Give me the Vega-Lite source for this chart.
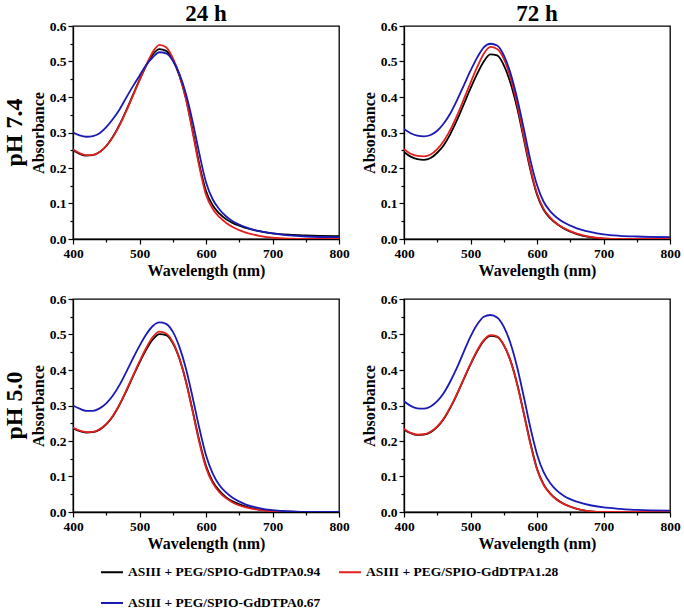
{
"$schema":"https://vega.github.io/schema/vega-lite/v6.json",
"padding":{"left":3,"top":3,"right":3,"bottom":0},
"config":{"font":"Liberation Serif","view":{"stroke":"black","strokeWidth":1.3},
"axis":{"domainColor":"black","domainWidth":1.3,"tickColor":"black","tickWidth":1.2,"labelFont":"Liberation Serif","labelFontWeight":"bold","labelFontSize":13.5,"labelColor":"black","titleFont":"Liberation Serif","titleFontWeight":"bold","titleFontSize":16,"titleColor":"black","grid":false,"labelPadding":2,"titlePadding":3,"labelFlush":false},
"legend":{"labelFont":"Liberation Serif","labelFontWeight":"bold","labelFontSize":13.5,"labelColor":"black"}},
"data":{"values":[
{"t":"24 h","p":"pH 7.4","s":"0.94","w":400,"a":0.250},{"t":"24 h","p":"pH 7.4","s":"0.94","w":410,"a":0.240},{"t":"24 h","p":"pH 7.4","s":"0.94","w":420,"a":0.235},{"t":"24 h","p":"pH 7.4","s":"0.94","w":430,"a":0.236},{"t":"24 h","p":"pH 7.4","s":"0.94","w":440,"a":0.245},{"t":"24 h","p":"pH 7.4","s":"0.94","w":450,"a":0.262},{"t":"24 h","p":"pH 7.4","s":"0.94","w":460,"a":0.288},{"t":"24 h","p":"pH 7.4","s":"0.94","w":470,"a":0.322},{"t":"24 h","p":"pH 7.4","s":"0.94","w":480,"a":0.362},{"t":"24 h","p":"pH 7.4","s":"0.94","w":490,"a":0.405},{"t":"24 h","p":"pH 7.4","s":"0.94","w":500,"a":0.448},{"t":"24 h","p":"pH 7.4","s":"0.94","w":510,"a":0.488},{"t":"24 h","p":"pH 7.4","s":"0.94","w":520,"a":0.520},{"t":"24 h","p":"pH 7.4","s":"0.94","w":530,"a":0.535},{"t":"24 h","p":"pH 7.4","s":"0.94","w":540,"a":0.530},{"t":"24 h","p":"pH 7.4","s":"0.94","w":550,"a":0.505},{"t":"24 h","p":"pH 7.4","s":"0.94","w":560,"a":0.460},{"t":"24 h","p":"pH 7.4","s":"0.94","w":570,"a":0.395},{"t":"24 h","p":"pH 7.4","s":"0.94","w":580,"a":0.305},{"t":"24 h","p":"pH 7.4","s":"0.94","w":590,"a":0.210},{"t":"24 h","p":"pH 7.4","s":"0.94","w":600,"a":0.135},{"t":"24 h","p":"pH 7.4","s":"0.94","w":610,"a":0.095},{"t":"24 h","p":"pH 7.4","s":"0.94","w":620,"a":0.072},{"t":"24 h","p":"pH 7.4","s":"0.94","w":630,"a":0.056},{"t":"24 h","p":"pH 7.4","s":"0.94","w":640,"a":0.045},{"t":"24 h","p":"pH 7.4","s":"0.94","w":660,"a":0.031},{"t":"24 h","p":"pH 7.4","s":"0.94","w":680,"a":0.022},{"t":"24 h","p":"pH 7.4","s":"0.94","w":700,"a":0.016},{"t":"24 h","p":"pH 7.4","s":"0.94","w":725,"a":0.012},{"t":"24 h","p":"pH 7.4","s":"0.94","w":750,"a":0.010},{"t":"24 h","p":"pH 7.4","s":"0.94","w":800,"a":0.008},
{"t":"24 h","p":"pH 7.4","s":"1.28","w":400,"a":0.252},{"t":"24 h","p":"pH 7.4","s":"1.28","w":410,"a":0.242},{"t":"24 h","p":"pH 7.4","s":"1.28","w":420,"a":0.236},{"t":"24 h","p":"pH 7.4","s":"1.28","w":430,"a":0.237},{"t":"24 h","p":"pH 7.4","s":"1.28","w":440,"a":0.245},{"t":"24 h","p":"pH 7.4","s":"1.28","w":450,"a":0.262},{"t":"24 h","p":"pH 7.4","s":"1.28","w":460,"a":0.287},{"t":"24 h","p":"pH 7.4","s":"1.28","w":470,"a":0.320},{"t":"24 h","p":"pH 7.4","s":"1.28","w":480,"a":0.360},{"t":"24 h","p":"pH 7.4","s":"1.28","w":490,"a":0.403},{"t":"24 h","p":"pH 7.4","s":"1.28","w":500,"a":0.447},{"t":"24 h","p":"pH 7.4","s":"1.28","w":510,"a":0.490},{"t":"24 h","p":"pH 7.4","s":"1.28","w":520,"a":0.527},{"t":"24 h","p":"pH 7.4","s":"1.28","w":530,"a":0.547},{"t":"24 h","p":"pH 7.4","s":"1.28","w":540,"a":0.540},{"t":"24 h","p":"pH 7.4","s":"1.28","w":550,"a":0.510},{"t":"24 h","p":"pH 7.4","s":"1.28","w":560,"a":0.462},{"t":"24 h","p":"pH 7.4","s":"1.28","w":570,"a":0.393},{"t":"24 h","p":"pH 7.4","s":"1.28","w":580,"a":0.300},{"t":"24 h","p":"pH 7.4","s":"1.28","w":590,"a":0.203},{"t":"24 h","p":"pH 7.4","s":"1.28","w":600,"a":0.125},{"t":"24 h","p":"pH 7.4","s":"1.28","w":610,"a":0.085},{"t":"24 h","p":"pH 7.4","s":"1.28","w":620,"a":0.062},{"t":"24 h","p":"pH 7.4","s":"1.28","w":630,"a":0.046},{"t":"24 h","p":"pH 7.4","s":"1.28","w":640,"a":0.034},{"t":"24 h","p":"pH 7.4","s":"1.28","w":660,"a":0.018},{"t":"24 h","p":"pH 7.4","s":"1.28","w":680,"a":0.009},{"t":"24 h","p":"pH 7.4","s":"1.28","w":700,"a":0.004},{"t":"24 h","p":"pH 7.4","s":"1.28","w":725,"a":0.001},{"t":"24 h","p":"pH 7.4","s":"1.28","w":750,"a":0.000},{"t":"24 h","p":"pH 7.4","s":"1.28","w":800,"a":0.000},
{"t":"24 h","p":"pH 7.4","s":"0.67","w":400,"a":0.300},{"t":"24 h","p":"pH 7.4","s":"0.67","w":410,"a":0.292},{"t":"24 h","p":"pH 7.4","s":"0.67","w":420,"a":0.288},{"t":"24 h","p":"pH 7.4","s":"0.67","w":430,"a":0.290},{"t":"24 h","p":"pH 7.4","s":"0.67","w":440,"a":0.298},{"t":"24 h","p":"pH 7.4","s":"0.67","w":450,"a":0.315},{"t":"24 h","p":"pH 7.4","s":"0.67","w":460,"a":0.338},{"t":"24 h","p":"pH 7.4","s":"0.67","w":470,"a":0.365},{"t":"24 h","p":"pH 7.4","s":"0.67","w":480,"a":0.398},{"t":"24 h","p":"pH 7.4","s":"0.67","w":490,"a":0.430},{"t":"24 h","p":"pH 7.4","s":"0.67","w":500,"a":0.460},{"t":"24 h","p":"pH 7.4","s":"0.67","w":510,"a":0.490},{"t":"24 h","p":"pH 7.4","s":"0.67","w":520,"a":0.512},{"t":"24 h","p":"pH 7.4","s":"0.67","w":530,"a":0.526},{"t":"24 h","p":"pH 7.4","s":"0.67","w":540,"a":0.523},{"t":"24 h","p":"pH 7.4","s":"0.67","w":550,"a":0.503},{"t":"24 h","p":"pH 7.4","s":"0.67","w":560,"a":0.465},{"t":"24 h","p":"pH 7.4","s":"0.67","w":570,"a":0.408},{"t":"24 h","p":"pH 7.4","s":"0.67","w":580,"a":0.330},{"t":"24 h","p":"pH 7.4","s":"0.67","w":590,"a":0.240},{"t":"24 h","p":"pH 7.4","s":"0.67","w":600,"a":0.160},{"t":"24 h","p":"pH 7.4","s":"0.67","w":610,"a":0.112},{"t":"24 h","p":"pH 7.4","s":"0.67","w":620,"a":0.084},{"t":"24 h","p":"pH 7.4","s":"0.67","w":630,"a":0.064},{"t":"24 h","p":"pH 7.4","s":"0.67","w":640,"a":0.050},{"t":"24 h","p":"pH 7.4","s":"0.67","w":660,"a":0.033},{"t":"24 h","p":"pH 7.4","s":"0.67","w":680,"a":0.022},{"t":"24 h","p":"pH 7.4","s":"0.67","w":700,"a":0.016},{"t":"24 h","p":"pH 7.4","s":"0.67","w":725,"a":0.010},{"t":"24 h","p":"pH 7.4","s":"0.67","w":750,"a":0.007},{"t":"24 h","p":"pH 7.4","s":"0.67","w":800,"a":0.005},
{"t":"72 h","p":"pH 7.4","s":"0.94","w":400,"a":0.245},{"t":"72 h","p":"pH 7.4","s":"0.94","w":410,"a":0.232},{"t":"72 h","p":"pH 7.4","s":"0.94","w":420,"a":0.225},{"t":"72 h","p":"pH 7.4","s":"0.94","w":430,"a":0.223},{"t":"72 h","p":"pH 7.4","s":"0.94","w":440,"a":0.228},{"t":"72 h","p":"pH 7.4","s":"0.94","w":450,"a":0.243},{"t":"72 h","p":"pH 7.4","s":"0.94","w":460,"a":0.265},{"t":"72 h","p":"pH 7.4","s":"0.94","w":470,"a":0.297},{"t":"72 h","p":"pH 7.4","s":"0.94","w":480,"a":0.336},{"t":"72 h","p":"pH 7.4","s":"0.94","w":490,"a":0.380},{"t":"72 h","p":"pH 7.4","s":"0.94","w":500,"a":0.424},{"t":"72 h","p":"pH 7.4","s":"0.94","w":510,"a":0.465},{"t":"72 h","p":"pH 7.4","s":"0.94","w":520,"a":0.500},{"t":"72 h","p":"pH 7.4","s":"0.94","w":530,"a":0.520},{"t":"72 h","p":"pH 7.4","s":"0.94","w":540,"a":0.517},{"t":"72 h","p":"pH 7.4","s":"0.94","w":550,"a":0.490},{"t":"72 h","p":"pH 7.4","s":"0.94","w":560,"a":0.440},{"t":"72 h","p":"pH 7.4","s":"0.94","w":570,"a":0.370},{"t":"72 h","p":"pH 7.4","s":"0.94","w":580,"a":0.283},{"t":"72 h","p":"pH 7.4","s":"0.94","w":590,"a":0.195},{"t":"72 h","p":"pH 7.4","s":"0.94","w":600,"a":0.125},{"t":"72 h","p":"pH 7.4","s":"0.94","w":610,"a":0.082},{"t":"72 h","p":"pH 7.4","s":"0.94","w":620,"a":0.058},{"t":"72 h","p":"pH 7.4","s":"0.94","w":630,"a":0.042},{"t":"72 h","p":"pH 7.4","s":"0.94","w":640,"a":0.030},{"t":"72 h","p":"pH 7.4","s":"0.94","w":660,"a":0.014},{"t":"72 h","p":"pH 7.4","s":"0.94","w":680,"a":0.005},{"t":"72 h","p":"pH 7.4","s":"0.94","w":700,"a":0.001},{"t":"72 h","p":"pH 7.4","s":"0.94","w":725,"a":0.000},{"t":"72 h","p":"pH 7.4","s":"0.94","w":750,"a":0.000},{"t":"72 h","p":"pH 7.4","s":"0.94","w":800,"a":0.000},
{"t":"72 h","p":"pH 7.4","s":"1.28","w":400,"a":0.253},{"t":"72 h","p":"pH 7.4","s":"1.28","w":410,"a":0.240},{"t":"72 h","p":"pH 7.4","s":"1.28","w":420,"a":0.234},{"t":"72 h","p":"pH 7.4","s":"1.28","w":430,"a":0.233},{"t":"72 h","p":"pH 7.4","s":"1.28","w":440,"a":0.238},{"t":"72 h","p":"pH 7.4","s":"1.28","w":450,"a":0.253},{"t":"72 h","p":"pH 7.4","s":"1.28","w":460,"a":0.277},{"t":"72 h","p":"pH 7.4","s":"1.28","w":470,"a":0.309},{"t":"72 h","p":"pH 7.4","s":"1.28","w":480,"a":0.349},{"t":"72 h","p":"pH 7.4","s":"1.28","w":490,"a":0.394},{"t":"72 h","p":"pH 7.4","s":"1.28","w":500,"a":0.440},{"t":"72 h","p":"pH 7.4","s":"1.28","w":510,"a":0.484},{"t":"72 h","p":"pH 7.4","s":"1.28","w":520,"a":0.522},{"t":"72 h","p":"pH 7.4","s":"1.28","w":530,"a":0.541},{"t":"72 h","p":"pH 7.4","s":"1.28","w":540,"a":0.535},{"t":"72 h","p":"pH 7.4","s":"1.28","w":550,"a":0.508},{"t":"72 h","p":"pH 7.4","s":"1.28","w":560,"a":0.455},{"t":"72 h","p":"pH 7.4","s":"1.28","w":570,"a":0.381},{"t":"72 h","p":"pH 7.4","s":"1.28","w":580,"a":0.290},{"t":"72 h","p":"pH 7.4","s":"1.28","w":590,"a":0.200},{"t":"72 h","p":"pH 7.4","s":"1.28","w":600,"a":0.128},{"t":"72 h","p":"pH 7.4","s":"1.28","w":610,"a":0.085},{"t":"72 h","p":"pH 7.4","s":"1.28","w":620,"a":0.060},{"t":"72 h","p":"pH 7.4","s":"1.28","w":630,"a":0.043},{"t":"72 h","p":"pH 7.4","s":"1.28","w":640,"a":0.031},{"t":"72 h","p":"pH 7.4","s":"1.28","w":660,"a":0.015},{"t":"72 h","p":"pH 7.4","s":"1.28","w":680,"a":0.006},{"t":"72 h","p":"pH 7.4","s":"1.28","w":700,"a":0.002},{"t":"72 h","p":"pH 7.4","s":"1.28","w":725,"a":0.000},{"t":"72 h","p":"pH 7.4","s":"1.28","w":750,"a":0.000},{"t":"72 h","p":"pH 7.4","s":"1.28","w":800,"a":0.000},
{"t":"72 h","p":"pH 7.4","s":"0.67","w":400,"a":0.310},{"t":"72 h","p":"pH 7.4","s":"0.67","w":410,"a":0.298},{"t":"72 h","p":"pH 7.4","s":"0.67","w":420,"a":0.291},{"t":"72 h","p":"pH 7.4","s":"0.67","w":430,"a":0.289},{"t":"72 h","p":"pH 7.4","s":"0.67","w":440,"a":0.293},{"t":"72 h","p":"pH 7.4","s":"0.67","w":450,"a":0.305},{"t":"72 h","p":"pH 7.4","s":"0.67","w":460,"a":0.326},{"t":"72 h","p":"pH 7.4","s":"0.67","w":470,"a":0.355},{"t":"72 h","p":"pH 7.4","s":"0.67","w":480,"a":0.392},{"t":"72 h","p":"pH 7.4","s":"0.67","w":490,"a":0.433},{"t":"72 h","p":"pH 7.4","s":"0.67","w":500,"a":0.474},{"t":"72 h","p":"pH 7.4","s":"0.67","w":510,"a":0.511},{"t":"72 h","p":"pH 7.4","s":"0.67","w":520,"a":0.540},{"t":"72 h","p":"pH 7.4","s":"0.67","w":530,"a":0.550},{"t":"72 h","p":"pH 7.4","s":"0.67","w":540,"a":0.545},{"t":"72 h","p":"pH 7.4","s":"0.67","w":550,"a":0.518},{"t":"72 h","p":"pH 7.4","s":"0.67","w":560,"a":0.468},{"t":"72 h","p":"pH 7.4","s":"0.67","w":570,"a":0.397},{"t":"72 h","p":"pH 7.4","s":"0.67","w":580,"a":0.312},{"t":"72 h","p":"pH 7.4","s":"0.67","w":590,"a":0.223},{"t":"72 h","p":"pH 7.4","s":"0.67","w":600,"a":0.152},{"t":"72 h","p":"pH 7.4","s":"0.67","w":610,"a":0.105},{"t":"72 h","p":"pH 7.4","s":"0.67","w":620,"a":0.078},{"t":"72 h","p":"pH 7.4","s":"0.67","w":630,"a":0.060},{"t":"72 h","p":"pH 7.4","s":"0.67","w":640,"a":0.047},{"t":"72 h","p":"pH 7.4","s":"0.67","w":660,"a":0.030},{"t":"72 h","p":"pH 7.4","s":"0.67","w":680,"a":0.020},{"t":"72 h","p":"pH 7.4","s":"0.67","w":700,"a":0.013},{"t":"72 h","p":"pH 7.4","s":"0.67","w":725,"a":0.009},{"t":"72 h","p":"pH 7.4","s":"0.67","w":750,"a":0.007},{"t":"72 h","p":"pH 7.4","s":"0.67","w":800,"a":0.005},
{"t":"24 h","p":"pH 5.0","s":"0.94","w":400,"a":0.236},{"t":"24 h","p":"pH 5.0","s":"0.94","w":410,"a":0.228},{"t":"24 h","p":"pH 5.0","s":"0.94","w":420,"a":0.224},{"t":"24 h","p":"pH 5.0","s":"0.94","w":430,"a":0.225},{"t":"24 h","p":"pH 5.0","s":"0.94","w":440,"a":0.232},{"t":"24 h","p":"pH 5.0","s":"0.94","w":450,"a":0.247},{"t":"24 h","p":"pH 5.0","s":"0.94","w":460,"a":0.270},{"t":"24 h","p":"pH 5.0","s":"0.94","w":470,"a":0.302},{"t":"24 h","p":"pH 5.0","s":"0.94","w":480,"a":0.340},{"t":"24 h","p":"pH 5.0","s":"0.94","w":490,"a":0.381},{"t":"24 h","p":"pH 5.0","s":"0.94","w":500,"a":0.421},{"t":"24 h","p":"pH 5.0","s":"0.94","w":510,"a":0.457},{"t":"24 h","p":"pH 5.0","s":"0.94","w":520,"a":0.486},{"t":"24 h","p":"pH 5.0","s":"0.94","w":530,"a":0.501},{"t":"24 h","p":"pH 5.0","s":"0.94","w":540,"a":0.498},{"t":"24 h","p":"pH 5.0","s":"0.94","w":550,"a":0.476},{"t":"24 h","p":"pH 5.0","s":"0.94","w":560,"a":0.432},{"t":"24 h","p":"pH 5.0","s":"0.94","w":570,"a":0.367},{"t":"24 h","p":"pH 5.0","s":"0.94","w":580,"a":0.285},{"t":"24 h","p":"pH 5.0","s":"0.94","w":590,"a":0.200},{"t":"24 h","p":"pH 5.0","s":"0.94","w":600,"a":0.130},{"t":"24 h","p":"pH 5.0","s":"0.94","w":610,"a":0.086},{"t":"24 h","p":"pH 5.0","s":"0.94","w":620,"a":0.060},{"t":"24 h","p":"pH 5.0","s":"0.94","w":630,"a":0.042},{"t":"24 h","p":"pH 5.0","s":"0.94","w":640,"a":0.030},{"t":"24 h","p":"pH 5.0","s":"0.94","w":660,"a":0.015},{"t":"24 h","p":"pH 5.0","s":"0.94","w":680,"a":0.007},{"t":"24 h","p":"pH 5.0","s":"0.94","w":700,"a":0.003},{"t":"24 h","p":"pH 5.0","s":"0.94","w":725,"a":0.001},{"t":"24 h","p":"pH 5.0","s":"0.94","w":750,"a":0.000},{"t":"24 h","p":"pH 5.0","s":"0.94","w":800,"a":0.000},
{"t":"24 h","p":"pH 5.0","s":"1.28","w":400,"a":0.238},{"t":"24 h","p":"pH 5.0","s":"1.28","w":410,"a":0.229},{"t":"24 h","p":"pH 5.0","s":"1.28","w":420,"a":0.225},{"t":"24 h","p":"pH 5.0","s":"1.28","w":430,"a":0.226},{"t":"24 h","p":"pH 5.0","s":"1.28","w":440,"a":0.233},{"t":"24 h","p":"pH 5.0","s":"1.28","w":450,"a":0.248},{"t":"24 h","p":"pH 5.0","s":"1.28","w":460,"a":0.271},{"t":"24 h","p":"pH 5.0","s":"1.28","w":470,"a":0.303},{"t":"24 h","p":"pH 5.0","s":"1.28","w":480,"a":0.342},{"t":"24 h","p":"pH 5.0","s":"1.28","w":490,"a":0.383},{"t":"24 h","p":"pH 5.0","s":"1.28","w":500,"a":0.424},{"t":"24 h","p":"pH 5.0","s":"1.28","w":510,"a":0.462},{"t":"24 h","p":"pH 5.0","s":"1.28","w":520,"a":0.493},{"t":"24 h","p":"pH 5.0","s":"1.28","w":530,"a":0.508},{"t":"24 h","p":"pH 5.0","s":"1.28","w":540,"a":0.503},{"t":"24 h","p":"pH 5.0","s":"1.28","w":550,"a":0.479},{"t":"24 h","p":"pH 5.0","s":"1.28","w":560,"a":0.433},{"t":"24 h","p":"pH 5.0","s":"1.28","w":570,"a":0.366},{"t":"24 h","p":"pH 5.0","s":"1.28","w":580,"a":0.282},{"t":"24 h","p":"pH 5.0","s":"1.28","w":590,"a":0.196},{"t":"24 h","p":"pH 5.0","s":"1.28","w":600,"a":0.125},{"t":"24 h","p":"pH 5.0","s":"1.28","w":610,"a":0.082},{"t":"24 h","p":"pH 5.0","s":"1.28","w":620,"a":0.056},{"t":"24 h","p":"pH 5.0","s":"1.28","w":630,"a":0.039},{"t":"24 h","p":"pH 5.0","s":"1.28","w":640,"a":0.027},{"t":"24 h","p":"pH 5.0","s":"1.28","w":660,"a":0.013},{"t":"24 h","p":"pH 5.0","s":"1.28","w":680,"a":0.006},{"t":"24 h","p":"pH 5.0","s":"1.28","w":700,"a":0.002},{"t":"24 h","p":"pH 5.0","s":"1.28","w":725,"a":0.001},{"t":"24 h","p":"pH 5.0","s":"1.28","w":750,"a":0.000},{"t":"24 h","p":"pH 5.0","s":"1.28","w":800,"a":0.000},
{"t":"24 h","p":"pH 5.0","s":"0.67","w":400,"a":0.300},{"t":"24 h","p":"pH 5.0","s":"0.67","w":410,"a":0.291},{"t":"24 h","p":"pH 5.0","s":"0.67","w":420,"a":0.285},{"t":"24 h","p":"pH 5.0","s":"0.67","w":430,"a":0.285},{"t":"24 h","p":"pH 5.0","s":"0.67","w":440,"a":0.292},{"t":"24 h","p":"pH 5.0","s":"0.67","w":450,"a":0.306},{"t":"24 h","p":"pH 5.0","s":"0.67","w":460,"a":0.328},{"t":"24 h","p":"pH 5.0","s":"0.67","w":470,"a":0.358},{"t":"24 h","p":"pH 5.0","s":"0.67","w":480,"a":0.394},{"t":"24 h","p":"pH 5.0","s":"0.67","w":490,"a":0.432},{"t":"24 h","p":"pH 5.0","s":"0.67","w":500,"a":0.468},{"t":"24 h","p":"pH 5.0","s":"0.67","w":510,"a":0.500},{"t":"24 h","p":"pH 5.0","s":"0.67","w":520,"a":0.524},{"t":"24 h","p":"pH 5.0","s":"0.67","w":530,"a":0.534},{"t":"24 h","p":"pH 5.0","s":"0.67","w":540,"a":0.530},{"t":"24 h","p":"pH 5.0","s":"0.67","w":550,"a":0.508},{"t":"24 h","p":"pH 5.0","s":"0.67","w":560,"a":0.465},{"t":"24 h","p":"pH 5.0","s":"0.67","w":570,"a":0.403},{"t":"24 h","p":"pH 5.0","s":"0.67","w":580,"a":0.322},{"t":"24 h","p":"pH 5.0","s":"0.67","w":590,"a":0.236},{"t":"24 h","p":"pH 5.0","s":"0.67","w":600,"a":0.160},{"t":"24 h","p":"pH 5.0","s":"0.67","w":610,"a":0.109},{"t":"24 h","p":"pH 5.0","s":"0.67","w":620,"a":0.076},{"t":"24 h","p":"pH 5.0","s":"0.67","w":630,"a":0.055},{"t":"24 h","p":"pH 5.0","s":"0.67","w":640,"a":0.040},{"t":"24 h","p":"pH 5.0","s":"0.67","w":660,"a":0.021},{"t":"24 h","p":"pH 5.0","s":"0.67","w":680,"a":0.011},{"t":"24 h","p":"pH 5.0","s":"0.67","w":700,"a":0.005},{"t":"24 h","p":"pH 5.0","s":"0.67","w":725,"a":0.002},{"t":"24 h","p":"pH 5.0","s":"0.67","w":750,"a":0.000},{"t":"24 h","p":"pH 5.0","s":"0.67","w":800,"a":0.000},
{"t":"72 h","p":"pH 5.0","s":"0.94","w":400,"a":0.232},{"t":"72 h","p":"pH 5.0","s":"0.94","w":410,"a":0.222},{"t":"72 h","p":"pH 5.0","s":"0.94","w":420,"a":0.217},{"t":"72 h","p":"pH 5.0","s":"0.94","w":430,"a":0.218},{"t":"72 h","p":"pH 5.0","s":"0.94","w":440,"a":0.225},{"t":"72 h","p":"pH 5.0","s":"0.94","w":450,"a":0.240},{"t":"72 h","p":"pH 5.0","s":"0.94","w":460,"a":0.263},{"t":"72 h","p":"pH 5.0","s":"0.94","w":470,"a":0.295},{"t":"72 h","p":"pH 5.0","s":"0.94","w":480,"a":0.333},{"t":"72 h","p":"pH 5.0","s":"0.94","w":490,"a":0.375},{"t":"72 h","p":"pH 5.0","s":"0.94","w":500,"a":0.416},{"t":"72 h","p":"pH 5.0","s":"0.94","w":510,"a":0.453},{"t":"72 h","p":"pH 5.0","s":"0.94","w":520,"a":0.482},{"t":"72 h","p":"pH 5.0","s":"0.94","w":530,"a":0.496},{"t":"72 h","p":"pH 5.0","s":"0.94","w":540,"a":0.493},{"t":"72 h","p":"pH 5.0","s":"0.94","w":550,"a":0.470},{"t":"72 h","p":"pH 5.0","s":"0.94","w":560,"a":0.427},{"t":"72 h","p":"pH 5.0","s":"0.94","w":570,"a":0.362},{"t":"72 h","p":"pH 5.0","s":"0.94","w":580,"a":0.280},{"t":"72 h","p":"pH 5.0","s":"0.94","w":590,"a":0.195},{"t":"72 h","p":"pH 5.0","s":"0.94","w":600,"a":0.122},{"t":"72 h","p":"pH 5.0","s":"0.94","w":610,"a":0.078},{"t":"72 h","p":"pH 5.0","s":"0.94","w":620,"a":0.052},{"t":"72 h","p":"pH 5.0","s":"0.94","w":630,"a":0.035},{"t":"72 h","p":"pH 5.0","s":"0.94","w":640,"a":0.023},{"t":"72 h","p":"pH 5.0","s":"0.94","w":660,"a":0.009},{"t":"72 h","p":"pH 5.0","s":"0.94","w":680,"a":0.002},{"t":"72 h","p":"pH 5.0","s":"0.94","w":700,"a":0.000},{"t":"72 h","p":"pH 5.0","s":"0.94","w":725,"a":0.000},{"t":"72 h","p":"pH 5.0","s":"0.94","w":750,"a":0.000},{"t":"72 h","p":"pH 5.0","s":"0.94","w":800,"a":0.000},
{"t":"72 h","p":"pH 5.0","s":"1.28","w":400,"a":0.234},{"t":"72 h","p":"pH 5.0","s":"1.28","w":410,"a":0.223},{"t":"72 h","p":"pH 5.0","s":"1.28","w":420,"a":0.218},{"t":"72 h","p":"pH 5.0","s":"1.28","w":430,"a":0.219},{"t":"72 h","p":"pH 5.0","s":"1.28","w":440,"a":0.226},{"t":"72 h","p":"pH 5.0","s":"1.28","w":450,"a":0.241},{"t":"72 h","p":"pH 5.0","s":"1.28","w":460,"a":0.264},{"t":"72 h","p":"pH 5.0","s":"1.28","w":470,"a":0.296},{"t":"72 h","p":"pH 5.0","s":"1.28","w":480,"a":0.334},{"t":"72 h","p":"pH 5.0","s":"1.28","w":490,"a":0.376},{"t":"72 h","p":"pH 5.0","s":"1.28","w":500,"a":0.417},{"t":"72 h","p":"pH 5.0","s":"1.28","w":510,"a":0.455},{"t":"72 h","p":"pH 5.0","s":"1.28","w":520,"a":0.484},{"t":"72 h","p":"pH 5.0","s":"1.28","w":530,"a":0.498},{"t":"72 h","p":"pH 5.0","s":"1.28","w":540,"a":0.495},{"t":"72 h","p":"pH 5.0","s":"1.28","w":550,"a":0.471},{"t":"72 h","p":"pH 5.0","s":"1.28","w":560,"a":0.427},{"t":"72 h","p":"pH 5.0","s":"1.28","w":570,"a":0.361},{"t":"72 h","p":"pH 5.0","s":"1.28","w":580,"a":0.278},{"t":"72 h","p":"pH 5.0","s":"1.28","w":590,"a":0.192},{"t":"72 h","p":"pH 5.0","s":"1.28","w":600,"a":0.120},{"t":"72 h","p":"pH 5.0","s":"1.28","w":610,"a":0.076},{"t":"72 h","p":"pH 5.0","s":"1.28","w":620,"a":0.051},{"t":"72 h","p":"pH 5.0","s":"1.28","w":630,"a":0.034},{"t":"72 h","p":"pH 5.0","s":"1.28","w":640,"a":0.023},{"t":"72 h","p":"pH 5.0","s":"1.28","w":660,"a":0.009},{"t":"72 h","p":"pH 5.0","s":"1.28","w":680,"a":0.002},{"t":"72 h","p":"pH 5.0","s":"1.28","w":700,"a":0.000},{"t":"72 h","p":"pH 5.0","s":"1.28","w":725,"a":0.000},{"t":"72 h","p":"pH 5.0","s":"1.28","w":750,"a":0.000},{"t":"72 h","p":"pH 5.0","s":"1.28","w":800,"a":0.000},
{"t":"72 h","p":"pH 5.0","s":"0.67","w":400,"a":0.312},{"t":"72 h","p":"pH 5.0","s":"0.67","w":410,"a":0.299},{"t":"72 h","p":"pH 5.0","s":"0.67","w":420,"a":0.292},{"t":"72 h","p":"pH 5.0","s":"0.67","w":430,"a":0.291},{"t":"72 h","p":"pH 5.0","s":"0.67","w":440,"a":0.297},{"t":"72 h","p":"pH 5.0","s":"0.67","w":450,"a":0.312},{"t":"72 h","p":"pH 5.0","s":"0.67","w":460,"a":0.336},{"t":"72 h","p":"pH 5.0","s":"0.67","w":470,"a":0.369},{"t":"72 h","p":"pH 5.0","s":"0.67","w":480,"a":0.408},{"t":"72 h","p":"pH 5.0","s":"0.67","w":490,"a":0.452},{"t":"72 h","p":"pH 5.0","s":"0.67","w":500,"a":0.494},{"t":"72 h","p":"pH 5.0","s":"0.67","w":510,"a":0.528},{"t":"72 h","p":"pH 5.0","s":"0.67","w":520,"a":0.550},{"t":"72 h","p":"pH 5.0","s":"0.67","w":530,"a":0.555},{"t":"72 h","p":"pH 5.0","s":"0.67","w":540,"a":0.548},{"t":"72 h","p":"pH 5.0","s":"0.67","w":550,"a":0.522},{"t":"72 h","p":"pH 5.0","s":"0.67","w":560,"a":0.476},{"t":"72 h","p":"pH 5.0","s":"0.67","w":570,"a":0.409},{"t":"72 h","p":"pH 5.0","s":"0.67","w":580,"a":0.326},{"t":"72 h","p":"pH 5.0","s":"0.67","w":590,"a":0.238},{"t":"72 h","p":"pH 5.0","s":"0.67","w":600,"a":0.163},{"t":"72 h","p":"pH 5.0","s":"0.67","w":610,"a":0.112},{"t":"72 h","p":"pH 5.0","s":"0.67","w":620,"a":0.081},{"t":"72 h","p":"pH 5.0","s":"0.67","w":630,"a":0.060},{"t":"72 h","p":"pH 5.0","s":"0.67","w":640,"a":0.046},{"t":"72 h","p":"pH 5.0","s":"0.67","w":660,"a":0.029},{"t":"72 h","p":"pH 5.0","s":"0.67","w":680,"a":0.019},{"t":"72 h","p":"pH 5.0","s":"0.67","w":700,"a":0.013},{"t":"72 h","p":"pH 5.0","s":"0.67","w":725,"a":0.009},{"t":"72 h","p":"pH 5.0","s":"0.67","w":750,"a":0.006},{"t":"72 h","p":"pH 5.0","s":"0.67","w":800,"a":0.004}
]},
"facet":{
"row":{"field":"p","type":"nominal","sort":["pH 7.4","pH 5.0"],"title":null,"header":{"labelFont":"Liberation Serif","labelFontSize":24,"labelFontWeight":"bold","labelColor":"black","labelAngle":-90,"labelOrient":"left","labelPadding":-10}},
"column":{"field":"t","type":"nominal","sort":["24 h","72 h"],"title":null,"header":{"labelFont":"Liberation Serif","labelFontSize":23,"labelFontWeight":"bold","labelColor":"black","labelPadding":-8}}
},
"spacing":{"row":11,"column":10},
"resolve":{"axis":{"x":"independent","y":"independent"}},
"spec":{
"width":266,"height":213,
"mark":{"type":"line","strokeWidth":1.8,"interpolate":"monotone","clip":true},
"encoding":{
"x":{"field":"w","type":"quantitative","scale":{"domain":[400,800],"nice":false,"zero":false},"axis":{"title":"Wavelength (nm)","values":[400,450,500,550,600,650,700,750,800],"labelExpr":"datum.value % 100 == 0 ? datum.label : ''","tickSize":{"condition":{"test":"datum.value % 100 != 0","value":3},"value":5},"labelOverlap":false}},
"y":{"field":"a","type":"quantitative","scale":{"domain":[0,0.6],"nice":false},"axis":{"title":"Absorbance","values":[0,0.05,0.1,0.15,0.2,0.25,0.3,0.35,0.4,0.45,0.5,0.55,0.6],"labelExpr":"abs(datum.value*10 - round(datum.value*10)) < 0.01 ? format(datum.value, '.1f') : ''","tickSize":{"condition":{"test":"abs(datum.value*10 - round(datum.value*10)) > 0.01","value":3},"value":5},"labelOverlap":false}},
"color":{"field":"s","type":"nominal","scale":{"domain":["0.94","1.28","0.67"],"range":["#000000","#e3201c","#1a1ab4"]},"legend":{"title":null,"orient":"none","legendX":27,"legendY":534,"direction":"horizontal","columns":2,"symbolType":"stroke","symbolStrokeWidth":2,"symbolSize":484,"labelExpr":"'ASIII + PEG/SPIO-GdDTPA' + datum.label","rowPadding":12,"columnPadding":14,"labelLimit":300,"labelOffset":4}}
}
}
}
